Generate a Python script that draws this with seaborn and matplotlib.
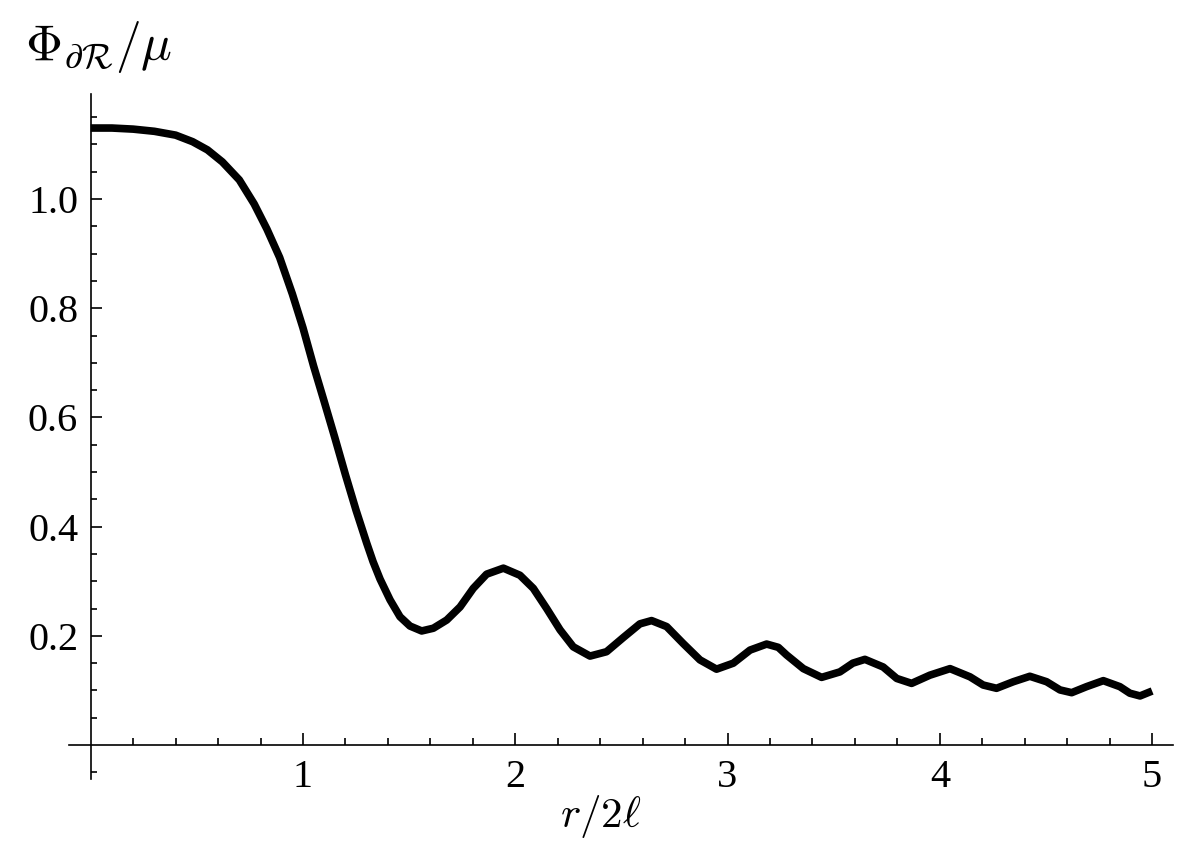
import matplotlib
matplotlib.use("Agg")
import matplotlib.pyplot as plt
import pandas as pd
import seaborn as sns
from matplotlib.ticker import FixedLocator

# values
r_over_2l = [0.00, 0.10, 0.20, 0.30, 0.40, 0.48, 0.55, 0.62, 0.70, 0.77,
             0.83, 0.89, 0.95, 1.00, 1.05, 1.10, 1.15, 1.20, 1.25, 1.30,
             1.33, 1.363, 1.410, 1.457, 1.504, 1.559, 1.614, 1.677, 1.740, 1.802,
             1.865, 1.944, 2.022, 2.085, 2.148, 2.211, 2.273, 2.352, 2.430, 2.509,
             2.587, 2.642, 2.713, 2.791, 2.870, 2.948, 3.027, 3.106, 3.184, 3.239,
             3.278, 3.357, 3.443, 3.529, 3.590, 3.647, 3.733, 3.797, 3.867, 3.953,
             4.048, 4.142, 4.204, 4.267, 4.346, 4.424, 4.503, 4.566, 4.621, 4.691,
             4.770, 4.848, 4.895, 4.943, 5.00]
phi_over_mu = [1.130, 1.130, 1.128, 1.124, 1.117, 1.105, 1.090, 1.068, 1.035, 0.991,
               0.945, 0.893, 0.826, 0.764, 0.694, 0.629, 0.563, 0.495, 0.430, 0.370,
               0.336, 0.304, 0.266, 0.235, 0.218, 0.209, 0.214, 0.229, 0.253, 0.287,
               0.313, 0.324, 0.311, 0.287, 0.250, 0.211, 0.180, 0.163, 0.171, 0.197,
               0.222, 0.228, 0.217, 0.186, 0.156, 0.139, 0.150, 0.174, 0.185, 0.179,
               0.165, 0.140, 0.124, 0.134, 0.150, 0.157, 0.143, 0.122, 0.113, 0.128,
               0.140, 0.125, 0.110, 0.104, 0.116, 0.126, 0.116, 0.101, 0.096, 0.107,
               0.118, 0.107, 0.095, 0.090, 0.099]

x_major = [1, 2, 3, 4, 5]
y_major = [0.2, 0.4, 0.6, 0.8, 1.0]
y_labels = ["0.2", "0.4", "0.6", "0.8", "1.0"]

sns.set_style("white")
plt.rcParams['font.family'] = ['Liberation Serif', 'DejaVu Serif']
plt.rcParams['mathtext.fontset'] = 'cm'

df = pd.DataFrame({"x": r_over_2l, "y": phi_over_mu})

fig = plt.figure(figsize=(12, 8.59), dpi=100)
ax = fig.add_axes([0.0579, 0.0932, 0.9199, 0.7978])
sns.lineplot(data=df, x="x", y="y", ax=ax, color="black", linewidth=5.5, sort=False,
             solid_joinstyle='round', solid_capstyle='butt')

ax.set_xlim(-0.1, 5.1)
ax.set_ylim(-0.062, 1.193)

ax.spines['left'].set_position(('data', 0))
ax.spines['bottom'].set_position(('data', 0))
ax.spines['top'].set_visible(False)
ax.spines['right'].set_visible(False)
for s in ['left', 'bottom']:
    ax.spines[s].set_color('black')
    ax.spines[s].set_linewidth(1.2)

ax.xaxis.set_major_locator(FixedLocator(x_major))
ax.xaxis.set_minor_locator(FixedLocator([0.2 * i for i in range(1, 26) if i % 5 != 0]))
ax.yaxis.set_major_locator(FixedLocator(y_major))
ax.yaxis.set_minor_locator(FixedLocator([-0.05, 0.05, 0.1, 0.15, 0.25, 0.3, 0.35, 0.45, 0.5,
                                         0.55, 0.65, 0.7, 0.75, 0.85, 0.9, 0.95, 1.05,
                                         1.1, 1.15]))
ax.set_xticklabels([str(v) for v in x_major])
ax.set_yticklabels(y_labels)

ax.tick_params(axis='x', which='major', direction='in', length=8.5, width=1.2, bottom=True,
               color='black', labelcolor='black', labelsize=29, pad=10)
ax.tick_params(axis='x', which='minor', direction='in', length=5, width=1.2, bottom=True,
               color='black')
ax.tick_params(axis='y', which='major', direction='in', length=8, width=1.2, left=True,
               color='black', labelcolor='black', labelsize=29, pad=9)
ax.tick_params(axis='y', which='minor', direction='in', length=4.3, width=1.2, left=True,
               color='black')

ax.set_xlabel("")
ax.set_ylabel("")

fig.text(0.0208, 0.930, r"$\Phi_{\partial\mathcal{R}}/\mu$", fontsize=37,
         ha='left', va='baseline', color='black')
fig.text(0.501, 0.0373, r"$r/2\ell$", fontsize=31, ha='center', va='baseline',
         color='black')

fig.savefig("out.png", dpi=100, facecolor='white')
